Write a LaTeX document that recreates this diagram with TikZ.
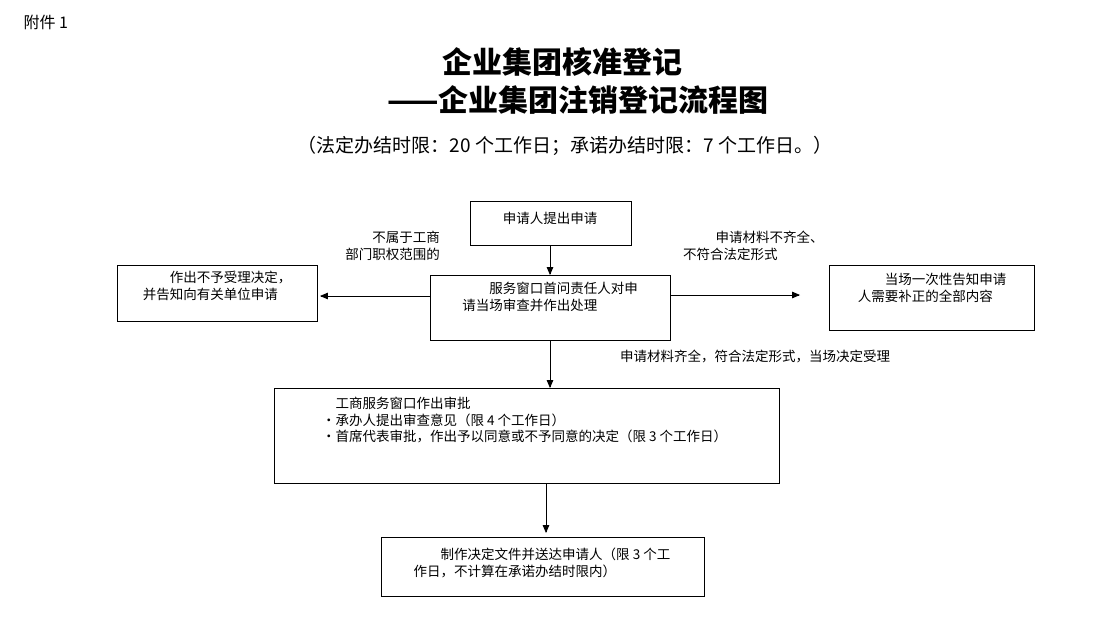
\documentclass[tikz,border=0pt]{standalone}
\usepackage{fontspec}
\setmainfont{Liberation Sans}
\newfontfamily\cjk{Noto Sans CJK SC}
\usetikzlibrary{arrows}

\begin{document}
\begin{tikzpicture}[x=1pt,y=-1pt,
    box/.style={draw,thick,inner sep=0pt},
    txt/.style={font=\cjk\fontsize{13.5}{16.5}\selectfont,align=left,inner sep=0pt},
    arr/.style={thick,>=triangle 45,->}]
\useasboundingbox (0,0) rectangle (1093,619);

% header
\node[font=\cjk\fontsize{16}{18}\selectfont,anchor=west] (annex) at (20,22) {附件 1};
\node[font=\cjk\bfseries\fontsize{30}{34}\selectfont] (title1) at (562,62) {企业集团核准登记};
\node[font=\cjk\bfseries\fontsize{30}{34}\selectfont] (title2) at (578,100) {——企业集团注销登记流程图};
\node[font=\cjk\fontsize{19}{22}\selectfont] (limit) at (565,146)
     {（法定办结时限：20 个工作日；承诺办结时限：7 个工作日。）};

% boxes
\draw[box] (470,201) rectangle (631,245);
\node[txt] (apply) at (550,218) {申请人提出申请};
\draw[box] (430,275) rectangle (670,340);
\node[txt] (window) at (550,297) {\hspace*{2em}服务窗口首问责任人对申\\请当场审查并作出处理};
\draw[box] (117,265) rectangle (317,321);
\node[txt] (reject) at (217,286) {\hspace*{2em}作出不予受理决定，\\并告知向有关单位申请};
\draw[box] (829,265) rectangle (1034,330);
\node[txt] (inform) at (932,288) {\hspace*{2em}当场一次性告知申请\\人需要补正的全部内容};
\draw[box] (274,388) rectangle (779,483);
\node[txt,anchor=north west] (review) at (322,397)
     {\hspace*{1em}工商服务窗口作出审批\\·承办人提出审查意见（限 4 个工作日）\\·首席代表审批，作出予以同意或不予同意的决定（限 3 个工作日）};
\draw[box] (381,537) rectangle (704,596);
\node[txt] (deliver) at (542,563) {\hspace*{2em}制作决定文件并送达申请人（限 3 个工\\作日，不计算在承诺办结时限内）};

% connectors
\coordinate (applyS) at (550,245);
\coordinate (windowN) at (550,275);
\coordinate (windowW) at (430,296);
\coordinate (rejectE) at (320,296);
\coordinate (windowE) at (670,295);
\coordinate (informW) at (800,295);
\coordinate (windowS) at (550,340);
\coordinate (reviewN) at (550,388);
\coordinate (reviewS) at (546,483);
\coordinate (deliverN) at (546,533);
\draw[arr] (applyS) -- (windowN);
\draw[arr] (windowW) -- (rejectE);
\draw[arr] (windowE) -- (informW);
\draw[arr] (windowS) -- (reviewN);
\draw[arr] (reviewS) -- (deliverN);

% labels
\node[txt,align=right,anchor=east] (outside) at (440,246) {不属于工商\\部门职权范围的};
\node[txt,anchor=west] (incomplete) at (683,246) {\hspace*{2.4em}申请材料不齐全、\\不符合法定形式};
\node[txt,anchor=west] (accept) at (620,356) {申请材料齐全，符合法定形式，当场决定受理};
\end{tikzpicture}
\end{document}
